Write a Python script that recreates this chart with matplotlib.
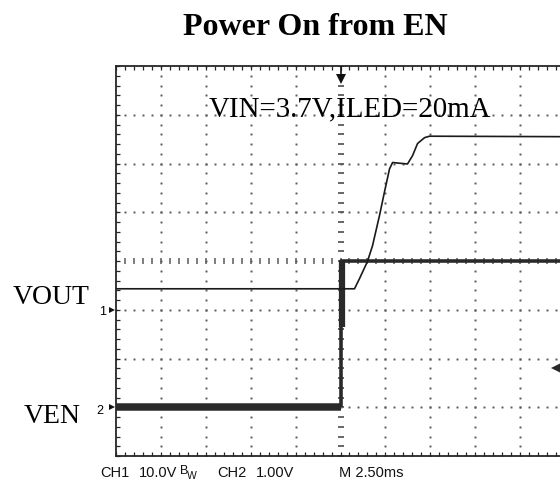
import numpy as np
import matplotlib
matplotlib.use("Agg")
import matplotlib.pyplot as plt
import matplotlib.transforms as mtransforms

# ---------------- data ----------------
# time in ms (2.5 ms/div, trigger at centre)
vout_t = [-12.5, 0.78, 1.06, 1.50, 1.78, 2.17, 2.45, 2.73, 2.90, 3.73, 4.01, 4.29, 4.68, 4.96, 12.5]
vout_v = [4.3, 4.3, 6.4, 9.9, 13.1, 19.3, 24.2, 28.9, 30.2, 29.9, 31.6, 34.1, 35.3, 35.6, 35.5]

ven_low_t = [-12.5, 0.0]
ven_low_v = [0.0, 0.0]
ven_t = [0.0, 0.05, 0.05, 12.5]
ven_v = [0.0, 0.0, 3.0, 3.0]
ven_ring_t = [0.08, 0.08]
ven_ring_v = [1.65, 3.0]

ch1_scale = 10.0   # V/div
ch2_scale = 1.0    # V/div
ch1_ground = -1.0  # div
ch2_ground = -3.0  # div
trig_level_v = 0.8

title = "Power On from EN"
cond_text = "VIN=3.7V,ILED=20mA"
bottom_labels = ["CH1", "10.0V", "B", "W", "CH2", "1.00V", "M 2.50ms"]

# ---------------- figure ----------------
W, H = 560, 481
fig = plt.figure(figsize=(W / 100, H / 100), dpi=100)
fig.patch.set_facecolor("white")
L, R, T, B = 116, 565, 67, 457
ax = fig.add_axes([L / W, 1 - B / H, (R - L) / W, (B - T) / H])
ax.set_xlim(-12.5, 12.5)
ax.set_ylim(-4, 4)
ax.set_facecolor("white")

dark = "#262626"
for s in ax.spines.values():
    s.set_color(dark)
    s.set_linewidth(1.3)

ax.set_xticks(np.arange(-12.5, 12.51, 0.5))
ax.set_yticks(np.arange(-4, 4.01, 0.2))
ax.tick_params(axis="both", which="major", direction="in", length=3, width=0.9,
               color=dark, top=True, right=True, labelbottom=False, labelleft=False)

# dotted graticule
dot_c = "#5a5a5a"
xs_fine = np.arange(-12.5, 12.51, 0.5)
ys_fine = np.arange(-4, 4.01, 0.2)
for xg in np.arange(-10, 10.01, 2.5):
    if abs(xg) < 1e-9:
        continue
    ax.plot(np.full_like(ys_fine, xg), ys_fine, ls="none", marker="s", ms=1.4, mew=0, color=dot_c, zorder=1)
for yg in range(-3, 4):
    if yg == 0:
        continue
    ax.plot(xs_fine, np.full_like(xs_fine, yg), ls="none", marker="s", ms=1.4, mew=0, color=dot_c, zorder=1)
# centre lines with dashes
ax.plot(xs_fine, np.zeros_like(xs_fine), ls="none", marker="|", ms=4.2, mew=1.1, color=dot_c, zorder=1)
ax.plot(np.zeros_like(ys_fine), ys_fine, ls="none", marker="_", ms=4.2, mew=1.3, color=dot_c, zorder=1)

# traces
vout_y = np.array(vout_v) / ch1_scale + ch1_ground
ax.plot(vout_t, vout_y, color="#1a1a1a", lw=1.2, zorder=4, solid_joinstyle="round")

ax.plot(ven_low_t, np.array(ven_low_v) / ch2_scale + ch2_ground, color="#2a2a2a", lw=5.4,
        solid_capstyle="butt", zorder=3)
ax.plot(ven_t, np.array(ven_v) / ch2_scale + ch2_ground, color="#2a2a2a", lw=2.6,
        solid_capstyle="butt", zorder=3)
ax.plot(ven_ring_t, np.array(ven_ring_v) / ch2_scale + ch2_ground, color="#2a2a2a", lw=4.5,
        solid_capstyle="butt", zorder=3)

# trigger markers
trans = mtransforms.blended_transform_factory(ax.transData, ax.transAxes)
ax.plot([0, 0], [0.997, 0.975], color="#111111", lw=1.2, transform=trans, clip_on=False, zorder=6)
ax.plot([0], [0.966], marker="v", ms=6.5, color="#111111", mew=0, transform=trans, clip_on=False, zorder=6)
ax.plot([12.08], [trig_level_v / ch2_scale + ch2_ground], marker="<", ms=9, color="#2a2a2a", mew=0,
        clip_on=False, zorder=6)

# ---------------- text ----------------
def fx(x):
    return x / W

def fy(y):
    return 1 - y / H

serif = ["Liberation Serif", "DejaVu Serif"]
sans = ["Liberation Sans", "DejaVu Sans"]

fig.text(fx(315), fy(35), title, family=serif, weight="bold", fontsize=23, ha="center", va="baseline")
fig.text(fx(350), fy(116), cond_text, family=serif, fontsize=20.8, ha="center", va="baseline")
fig.text(fx(13), fy(304), "VOUT", family=serif, fontsize=20, ha="left", va="baseline")
fig.text(fx(24), fy(423), "VEN", family=serif, fontsize=20, ha="left", va="baseline")

# channel ground markers
fig.text(fx(99), fy(315), "1", family=sans, fontsize=9, ha="left", va="baseline")
fig.text(fx(96), fy(414.5), "2", family=sans, fontsize=9, ha="left", va="baseline")
ax.plot([-12.5 - 4 * 2.5 / 44.9], [ch1_ground], marker=">", ms=5, color="#111111", mew=0, clip_on=False, zorder=6)
ax.plot([-12.5 - 4 * 2.5 / 44.9], [ch2_ground], marker=">", ms=5, color="#111111", mew=0, clip_on=False, zorder=6)

# bottom readout
bx = [100, 139, 180, 187, 217, 256, 339]
for lab, x in zip(bottom_labels, bx):
    size = 10.5
    yb = 477
    if lab == "B":
        size = 9
        yb = 474
    if lab == "W":
        size = 7.5
        yb = 479
    fig.text(fx(x), fy(yb), lab, family=sans, fontsize=size, ha="left", va="baseline", color="#111111")

fig.savefig("out.png", dpi=100, facecolor="white")
